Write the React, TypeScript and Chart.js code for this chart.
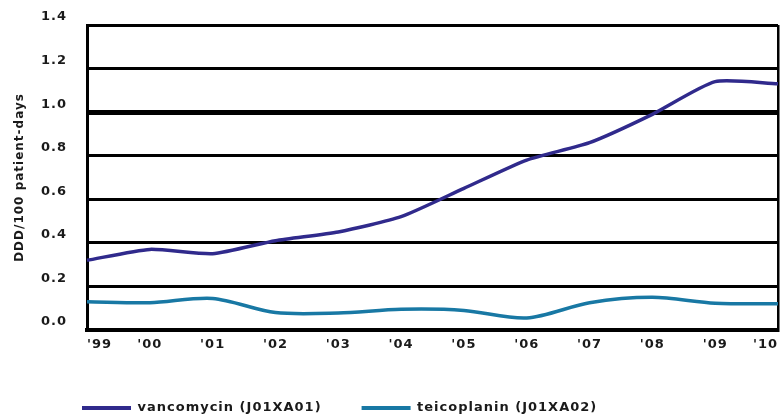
import React, { useEffect, useRef } from 'react';
import { Chart, registerables } from 'chart.js';

Chart.register(...registerables);

const years = ["'99", "'00", "'01", "'02", "'03", "'04", "'05", "'06", "'07", "'08", "'09", "'10"];
const vancomycin = [0.32, 0.37, 0.35, 0.41, 0.45, 0.52, 0.65, 0.78, 0.86, 0.99, 1.14, 1.13];
const teicoplanin = [0.13, 0.125, 0.145, 0.08, 0.078, 0.095, 0.09, 0.055, 0.125, 0.15, 0.123, 0.12];
const yTickValues = [0, 0.2, 0.4, 0.6, 0.8, 1.0, 1.2, 1.4];
const seriesNames = ['vancomycin (J01XA01)', 'teicoplanin (J01XA02)'];
const yTitle = 'DDD/100 patient-days';

const VANCO = '#302a8c';
const TEICO = '#1878a4';
const FONT = { family: 'DejaVu Sans', size: 13, weight: 'bold' as const };

const spacingPlugin = {
  id: 'spacing',
  beforeLayout(chart: any) {
    (chart.ctx as any).letterSpacing = '1px';
  },
  beforeDraw(chart: any) {
    (chart.ctx as any).letterSpacing = '1px';
  },
};

const legendPlace = {
  id: 'legendPlace',
  afterLayout(chart: any) {
    const lg = chart.legend;
    if (!lg) return;
    const P = lg.options.labels.padding;
    const h = lg.bottom - lg.top;
    lg.left = 82 - P;
    lg.right = lg.left + 781;
    lg.top = 401.5 - P;
    lg.bottom = lg.top + h;
  },
};

export default function App() {
  const ref = useRef<HTMLCanvasElement | null>(null);

  useEffect(() => {
    document.body.style.margin = '0';
    if (!ref.current) return;
    const chart = new Chart(ref.current, {
      type: 'line',
      data: {
        labels: years,
        datasets: [
          {
            label: seriesNames[0],
            data: vancomycin,
            borderColor: VANCO,
            backgroundColor: VANCO,
            borderWidth: 3.5,
            pointRadius: 0,
            tension: 0.2,
            fill: false,
          },
          {
            label: seriesNames[1],
            data: teicoplanin,
            borderColor: TEICO,
            backgroundColor: TEICO,
            borderWidth: 3.5,
            pointRadius: 0,
            tension: 0.3,
            fill: false,
          },
        ],
      },
      options: {
        animation: false,
        responsive: true,
        maintainAspectRatio: false,
        layout: { padding: { left: 0, right: 3, top: 25, bottom: 0 } },
        plugins: {
          tooltip: { enabled: false },
          legend: {
            position: 'bottom',
            align: 'start',
            labels: {
              boxWidth: 49,
              boxHeight: 4,
              padding: 40,
              color: '#1a1a1a',
              font: FONT,
              generateLabels: (c: any) => {
                const items = Chart.defaults.plugins.legend.labels.generateLabels(c);
                items.forEach((it: any) => {
                  it.lineWidth = 0;
                });
                return items;
              },
            },
          },
        },
        scales: {
          x: {
            offset: false,
            grid: {
              display: true,
              drawTicks: false,
              color: (ctx: any) => (ctx.index === years.length - 1 ? '#000' : 'rgba(0,0,0,0)'),
              lineWidth: 2.5,
            },
            border: { display: true, color: '#000', width: 4 },
            ticks: {
              align: 'inner',
              padding: 7,
              autoSkip: false,
              maxRotation: 0,
              color: '#1a1a1a',
              font: FONT,
            },
            afterFit: (s: any) => {
              s.height = 25;
              s.paddingLeft = 0;
              s.paddingRight = 0;
            },
          },
          y: {
            min: 0,
            max: 1.4,
            afterBuildTicks: (s: any) => {
              s.ticks = yTickValues.map((v) => ({ value: v }));
            },
            ticks: {
              padding: 20,
              labelOffset: -8,
              color: '#1a1a1a',
              font: FONT,
              callback: (v: any) => Number(v).toFixed(1),
            },
            grid: {
              color: '#000',
              drawTicks: false,
              lineWidth: (ctx: any) => (ctx.tick && Math.abs(ctx.tick.value - 1) < 1e-6 ? 5 : 3),
            },
            border: { display: true, color: '#000', width: 3 },
            title: {
              display: true,
              text: yTitle,
              color: '#1a1a1a',
              font: { family: 'DejaVu Sans', size: 12, weight: 'bold' },
              padding: { top: 13, bottom: 0 },
            },
            afterFit: (s: any) => {
              s.width = 87;
              s.paddingTop = 0;
              s.paddingBottom = 0;
            },
          },
        },
      },
      plugins: [spacingPlugin, legendPlace],
    } as any);
    return () => chart.destroy();
  }, []);

  return (
    <div style={{ position: 'absolute', left: 0, top: 0, width: 781, height: 418 }}>
      <canvas ref={ref} />
    </div>
  );
}
